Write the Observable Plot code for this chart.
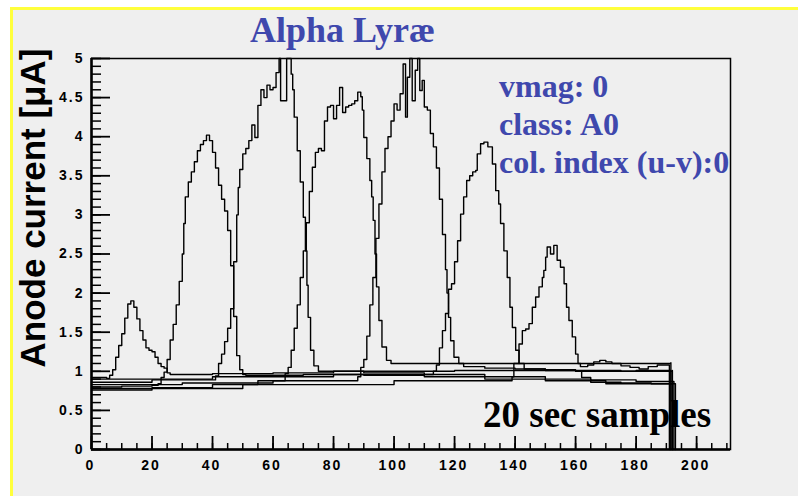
<!DOCTYPE html>
<html><head><meta charset="utf-8">
<script src="https://cdn.jsdelivr.net/npm/d3@7"></script>
<script src="https://cdn.jsdelivr.net/npm/@observablehq/plot@0.6"></script>
<style>
body{margin:0;background:#fff;}
#wrap{position:relative;width:798px;height:496px;overflow:hidden;background:#fff;}
#panel{position:absolute;left:10px;top:7px;width:800px;height:492px;box-sizing:border-box;border:3px solid #ffff3c;border-right:none;background:#efefef;}
#wrap svg{position:absolute;left:0;top:0;}
#wrap svg text{letter-spacing:2px;}
.t{position:absolute;white-space:nowrap;font-family:"Liberation Serif","Times New Roman",serif;font-weight:bold;line-height:1;}
.blue{color:#3f48ad;}
#ylab{position:absolute;left:32px;top:208px;transform:translate(-50%,-50%) rotate(-90deg);white-space:nowrap;font-family:"Liberation Sans",Arial,sans-serif;font-weight:bold;font-size:35px;line-height:1;color:#000;}
</style></head>
<body>
<div id="wrap"><div id="panel"></div></div>
<script>
// Tick values
const xMajor = [0, 20, 40, 60, 80, 100, 120, 140, 160, 180, 200];
const xMinor = d3.range(0, 211, 5);
const yMajor = [0, 0.5, 1, 1.5, 2, 2.5, 3, 3.5, 4, 4.5, 5];
const yMinor = d3.range(0, 50.5, 1).map(d => d / 10);

// Texts
const titleText = "Alpha Lyræ";
const infoLines = ["vmag: 0", "class: A0", "col. index (u-v):0"];
const yLabel = "Anode current [μA]";
const noteText = "20 sec samples";

// Seven drift scans: [sample, anode current µA]
const scan1 = [[0,0.92],[3,0.92],[5,0.91],[6,0.95],[7,1.02],[8,1.18],[9,1.33],[10,1.48],[11,1.68],[12,1.86],[13,1.90],[14,1.82],[15,1.67],[16,1.52],[17,1.40],[18,1.30],[19,1.27],[20,1.25],[21,1.18],[22,1.10],[23,1.06],[24,1.04],[25,0.98],[26,0.96],[40,0.97],[60,0.98],[80,1.00],[100,1.00],[120,1.01],[140,1.01],[160,1.00],[180,1.01],[191.5,1.01],[191.5,0]];
const scan2 = [[0,0.80],[10,0.81],[20,0.82],[22,0.84],[23,0.92],[24,0.99],[25,1.15],[26,1.40],[27,1.60],[28,1.85],[29,2.15],[30,2.50],[30.5,2.89],[31,3.23],[32,3.42],[33,3.55],[34,3.68],[35,3.82],[36,3.90],[37,3.95],[38,4.02],[39,3.95],[40,3.80],[41,3.60],[42,3.38],[43,3.20],[44,3.05],[45,2.80],[46,2.35],[47,1.70],[48,1.20],[49,1.02],[50,0.96],[51,0.95],[70,0.96],[90,0.95],[110,0.93],[130,0.90],[150,0.88],[170,0.84],[192,0.82],[192,0]];
const scan3 = [[0,0.86],[20,0.89],[41,0.94],[42,1.10],[43,1.22],[44,1.38],[45,1.55],[46,1.80],[47,2.40],[48,3.00],[48.5,3.35],[49,3.58],[50,3.78],[51,3.85],[52,3.95],[53,4.15],[54,3.99],[55,4.40],[56,4.60],[57,4.50],[58,4.66],[59,4.60],[60,4.63],[61,4.82],[62,5.0],[62.5,4.46],[64,4.46],[64.5,5.0],[65.5,5.0],[66,4.80],[66.5,4.60],[67,4.25],[68,3.82],[69,3.42],[70,2.97],[70.7,2.54],[71.2,2.10],[71.6,1.69],[72.4,1.27],[73.5,1.07],[75,1.00],[90,0.98],[110,0.96],[130,0.93],[150,0.90],[165,0.89],[180,0.87],[192.5,0.87],[192.5,0]];
const scan4 = [[0,0.76],[20,0.79],[40,0.83],[55,0.88],[64,0.97],[65,1.05],[66,1.27],[67,1.55],[68,1.85],[69,2.20],[70,2.54],[71,2.90],[72,3.30],[73,3.61],[74,3.80],[75,3.85],[76,3.82],[77,4.20],[78,4.38],[79,4.40],[80,4.23],[81,4.40],[82,4.63],[83,4.31],[84,4.38],[85,4.40],[86,4.42],[87,4.46],[88,4.57],[89,4.51],[89.5,4.34],[90,3.99],[91,3.72],[92,3.44],[92.6,3.23],[93.1,2.93],[93.7,2.50],[94.2,2.08],[95,1.65],[96,1.31],[97.5,1.14],[99,1.10],[120,1.10],[140,1.10],[160,1.10],[175,1.10],[191.5,1.11],[191.5,0]];
const scan5 = [[0,0.83],[30,0.85],[60,0.88],[88,0.93],[89,1.05],[90,1.15],[91,1.45],[92,1.85],[93,2.20],[94,2.70],[95,3.14],[96,3.55],[97,3.85],[98,4.00],[99,4.20],[100,4.42],[101,4.34],[102,4.55],[103,4.93],[103.8,4.25],[104.4,4.76],[105.2,5.0],[106,4.46],[107,4.85],[107.8,5.0],[108.5,4.59],[109.3,4.72],[110,4.38],[111,4.34],[112,4.04],[113,3.87],[114,3.60],[115,3.20],[116,2.75],[117,2.30],[117.5,2.00],[118,1.69],[118.7,1.39],[119.8,1.18],[121.4,1.10],[123,1.06],[130,1.04],[140,1.03],[150,1.02],[160,1.01],[175,1.00],[192,1.01],[192,0]];
const scan6 = [[0,0.90],[40,0.93],[80,0.96],[113,1.00],[114,1.08],[115,1.30],[116,1.52],[117,1.74],[118,2.05],[119,2.12],[120,2.40],[121,2.67],[122,3.01],[123,3.23],[124,3.44],[125,3.50],[126,3.55],[127,3.57],[127.5,3.78],[128.6,3.91],[129.7,3.93],[131,3.87],[132,3.87],[132.5,3.65],[133.6,3.31],[134.6,3.14],[135.2,2.89],[136.3,2.54],[137.4,2.20],[138.3,1.82],[139.1,1.56],[140.2,1.27],[141.3,1.10],[143,1.03],[150,1.01],[160,1.00],[162,0.92],[165,0.86],[175,0.85],[185,0.84],[193,0.83],[193,0]];
const scan7 = [[0,0.78],[50,0.83],[100,0.88],[139,0.93],[139.6,1.10],[141.3,1.35],[142.4,1.52],[143.5,1.54],[144.6,1.61],[145.7,1.82],[146.8,1.95],[147.9,2.08],[149,2.20],[149.5,2.29],[150.1,2.46],[150.6,2.59],[151.7,2.50],[152.8,2.61],[153.9,2.42],[155,2.33],[156.2,2.12],[157,1.82],[157.8,1.65],[158.9,1.44],[160,1.22],[160.8,1.10],[161.6,1.06],[164,1.08],[166,1.12],[168,1.14],[170,1.12],[172,1.10],[175,1.07],[178,1.05],[181,1.03],[184,1.06],[187,1.08],[191,1.08],[191,0]];

const scans = [scan1, scan2, scan3, scan4, scan5, scan6, scan7];
const rows = [];
scans.forEach((s, i) => s.forEach(([x, y]) => rows.push({scan: i, x, y})));

const W = 798, H = 496, mL = 91, mR = 68, mT = 58, mB = 47;
const fw = W - mL - mR, fh = H - mT - mB;

const chart = Plot.plot({
  width: W, height: H,
  marginLeft: mL, marginRight: mR, marginTop: mT, marginBottom: mB,
  x: {domain: [0, 211.2]},
  y: {domain: [0, 5]},
  style: {background: "transparent", fontFamily: "'Liberation Sans', Arial, sans-serif", fontSize: "14px", fontWeight: "bold", color: "black", overflow: "visible"},
  marks: [
    Plot.line(rows, {x: "x", y: "y", z: "scan", curve: "step-after", stroke: "black", strokeWidth: 1.4}),
    Plot.tickY(yMinor, {y: d => d, insetRight: fw - 10, stroke: "black", strokeWidth: 1.5}),
    Plot.tickY(yMajor, {y: d => d, insetRight: fw - 19, stroke: "black", strokeWidth: 1.8}),
    Plot.tickX(xMinor, {x: d => d, insetTop: fh - 6, stroke: "black", strokeWidth: 1.5}),
    Plot.tickX(xMajor, {x: d => d, insetTop: fh - 13, stroke: "black", strokeWidth: 1.8}),
    Plot.frame({stroke: "black", strokeWidth: 1.5}),
    Plot.ruleX([0], {stroke: "black", strokeWidth: 2.5}),
    Plot.ruleY([0], {stroke: "black", strokeWidth: 2.5}),
    Plot.axisY({ticks: yMajor, tickSize: 0, tickPadding: 7, tickFormat: d => String(d), label: null}),
    Plot.axisX({ticks: xMajor, tickSize: 0, tickPadding: 11, tickFormat: d => String(d), label: null, dx: -1})
  ]
});
const wrap = document.getElementById("wrap");
wrap.appendChild(chart);

function addText(txt, cls, left, top, size, color) {
  const d = document.createElement("div");
  d.className = cls;
  d.textContent = txt;
  d.style.left = left + "px";
  d.style.top = top + "px";
  d.style.fontSize = size + "px";
  d.style.color = color;
  wrap.appendChild(d);
}
addText(titleText, "t", 250, 12, 36, "#3f48ad");
infoLines.forEach((s, i) => addText(s, "t", 499, 70 + i * 38, 32, "#3f48ad"));
addText(noteText, "t", 483, 396, 37, "#000");
const yl = document.createElement("div");
yl.id = "ylab";
yl.textContent = yLabel;
wrap.appendChild(yl);
</script>
</body></html>
